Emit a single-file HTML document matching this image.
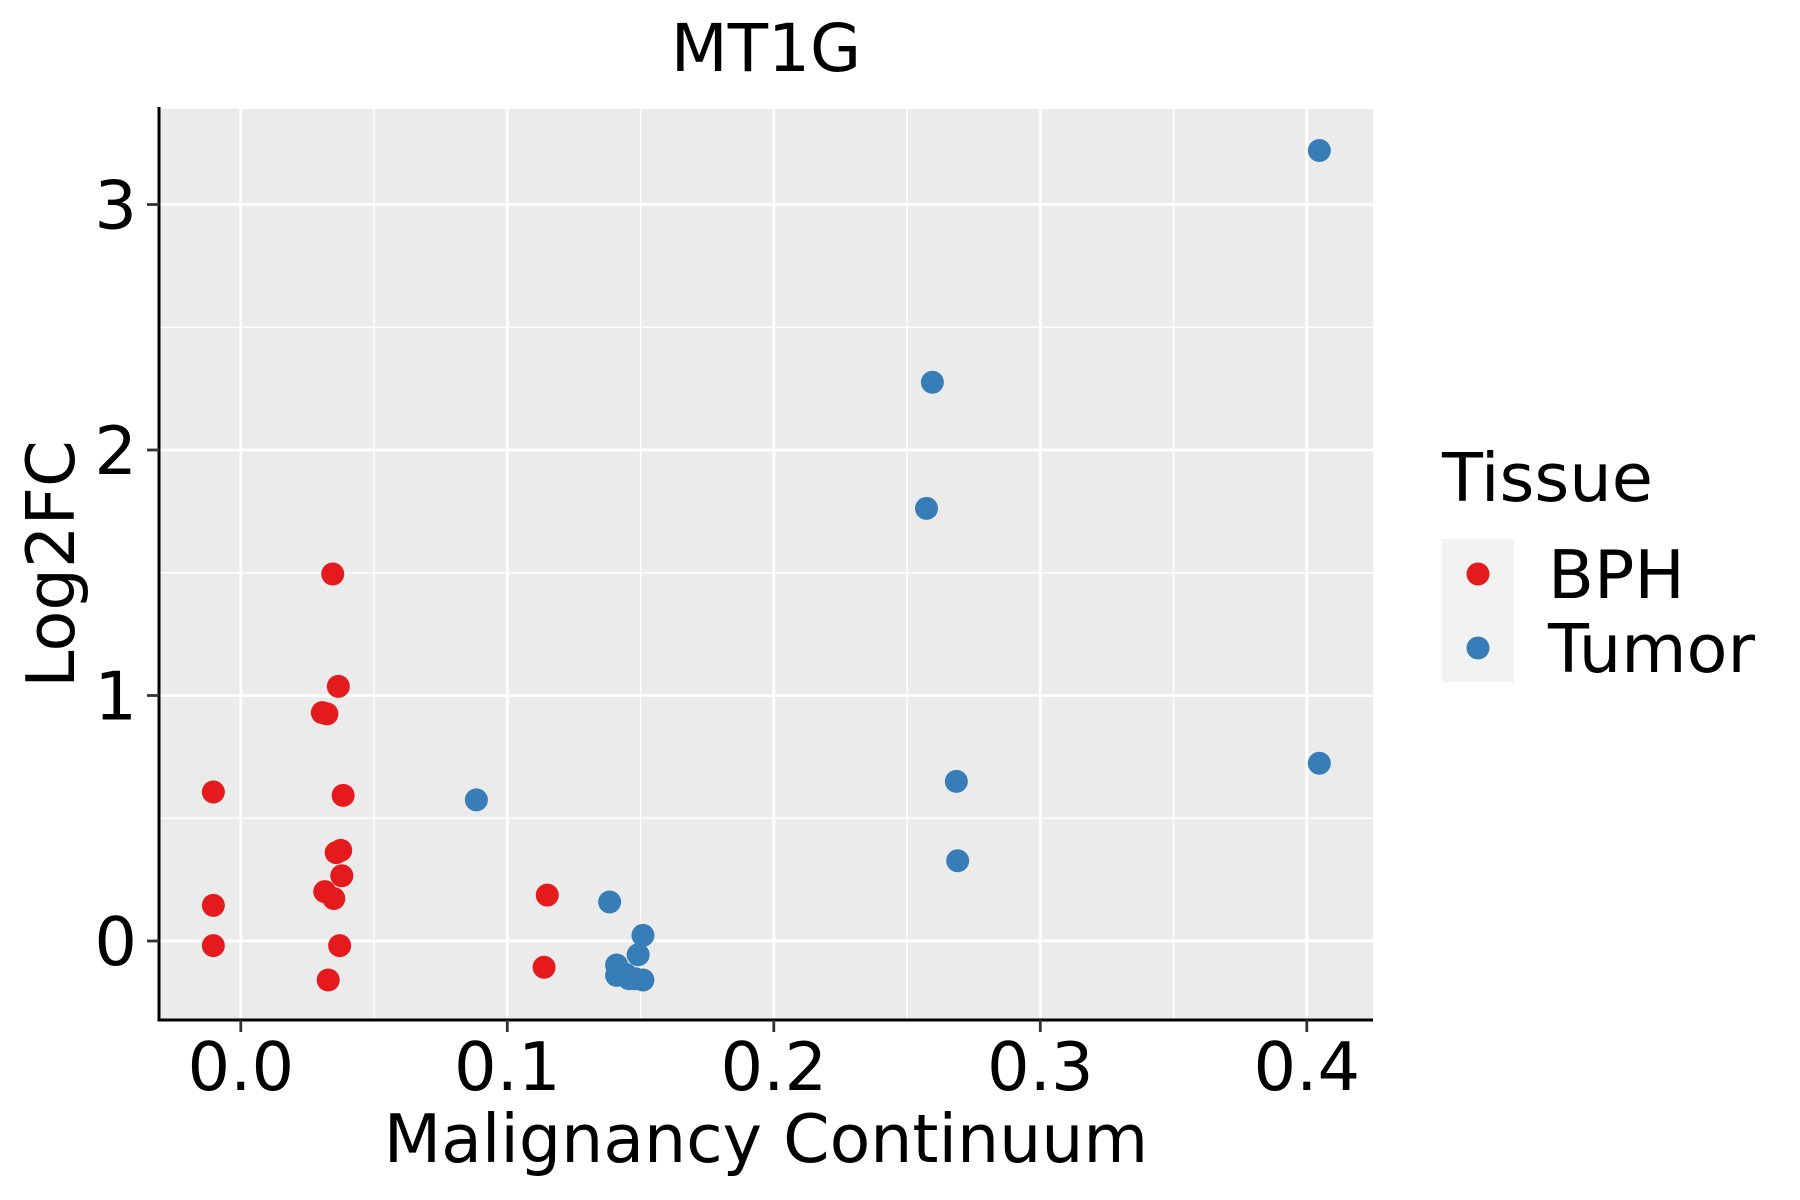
<!DOCTYPE html>
<html><head><meta charset="utf-8"><style>
html,body{margin:0;padding:0;background:#fff;}
svg{display:block;font-family:"DejaVu Sans","Liberation Sans",sans-serif;}
</style></head><body>
<svg id="chart" width="1800" height="1200" viewBox="0 0 1800 1200">
<rect x="159" y="109" width="1214" height="911" fill="#ebebeb"/>
<g id="grid"></g>
<g id="points"></g>
<line x1="159" y1="107" x2="159" y2="1021.5" stroke="#000" stroke-width="3"/>
<line x1="157.5" y1="1020" x2="1373" y2="1020" stroke="#000" stroke-width="3"/>
<g id="axes"></g>
<text x="766" y="71" font-size="66" text-anchor="middle">MT1G</text>
<text x="766" y="1162" font-size="66.5" text-anchor="middle">Malignancy Continuum</text>
<text x="0" y="0" font-size="67" text-anchor="middle" transform="translate(74,564) rotate(-90)">Log2FC</text>
<g>
<text x="1442" y="501" font-size="67">Tissue</text>
<rect x="1442" y="539" width="72" height="143" fill="#f2f2f2"/>
<circle cx="1478" cy="574" r="11.5" fill="#e41a1c"/>
<circle cx="1478" cy="648" r="11.5" fill="#377eb8"/>
<text x="1548" y="598" font-size="67">BPH</text>
<text x="1548" y="672" font-size="67">Tumor</text>
</g>
</svg>
<script>
const xTicks=[0,0.1,0.2,0.3,0.4];
const xTickLabels=["0.0","0.1","0.2","0.3","0.4"];
const xMinor=[0.05,0.15,0.25,0.35];
const yTicks=[0,1,2,3];
const yTickLabels=["0","1","2","3"];
const yMinor=[0.5,1.5,2.5];
const bphX=[-0.0103,-0.0103,-0.0103,0.0345,0.0366,0.0306,0.0323,0.0384,0.0358,0.0375,0.0379,0.0315,0.0349,0.0371,0.0328,0.115,0.1138];
const bphY=[0.607,0.145,-0.019,1.495,1.037,0.930,0.925,0.593,0.360,0.369,0.266,0.201,0.173,-0.019,-0.159,0.187,-0.107];
const tumorX=[0.4047,0.2595,0.2573,0.0884,0.2685,0.269,0.4047,0.1384,0.1509,0.1491,0.141,0.141,0.1457,0.148,0.1509,0.1444];
const tumorY=[3.220,2.276,1.762,0.575,0.650,0.327,0.724,0.159,0.023,-0.056,-0.098,-0.140,-0.154,-0.154,-0.159,-0.136];
const NS="http://www.w3.org/2000/svg";
function sx(v){return 240.8+v*2665;}
function sy(v){return 941-v*245.5;}
function mk(tag,attrs,parent){const e=document.createElementNS(NS,tag);for(const k in attrs)e.setAttribute(k,attrs[k]);parent.appendChild(e);return e;}
const grid=document.getElementById('grid'),axes=document.getElementById('axes'),pts=document.getElementById('points');
xMinor.forEach(v=>{const l=mk('line',{x1:sx(v),x2:sx(v),y1:109,y2:1020,stroke:'#fff','stroke-width':1.4},grid);

});
yMinor.forEach(v=>{const l=mk('line',{x1:159,x2:1373,y1:sy(v),y2:sy(v),stroke:'#fff','stroke-width':1.4},grid);

});
xTicks.forEach((v,i)=>{const l=mk('line',{x1:sx(v),x2:sx(v),y1:109,y2:1020,stroke:'#fff','stroke-width':2.8},grid);


const t=mk('line',{x1:sx(v),x2:sx(v),y1:1020,y2:1032,stroke:'#333','stroke-width':2.8},axes);


const tx=mk('text',{x:sx(v),y:1090,'font-size':67,'text-anchor':'middle'},axes);tx.textContent=xTickLabels[i];

});
yTicks.forEach((v,i)=>{const l=mk('line',{x1:159,x2:1373,y1:sy(v),y2:sy(v),stroke:'#fff','stroke-width':2.8},grid);


const t=mk('line',{x1:147,x2:159,y1:sy(v),y2:sy(v),stroke:'#333','stroke-width':2.8},axes);


const tx=mk('text',{x:137,y:sy(v)+24,'font-size':67,'text-anchor':'end'},axes);tx.textContent=yTickLabels[i];

});
bphX.forEach((v,i)=>{const c=mk('circle',{cx:sx(v),cy:sy(bphY[i]),r:11.5,fill:'#e41a1c'},pts);

});
tumorX.forEach((v,i)=>{const c=mk('circle',{cx:sx(v),cy:sy(tumorY[i]),r:11.5,fill:'#377eb8'},pts);

});
</script>
</body></html>
